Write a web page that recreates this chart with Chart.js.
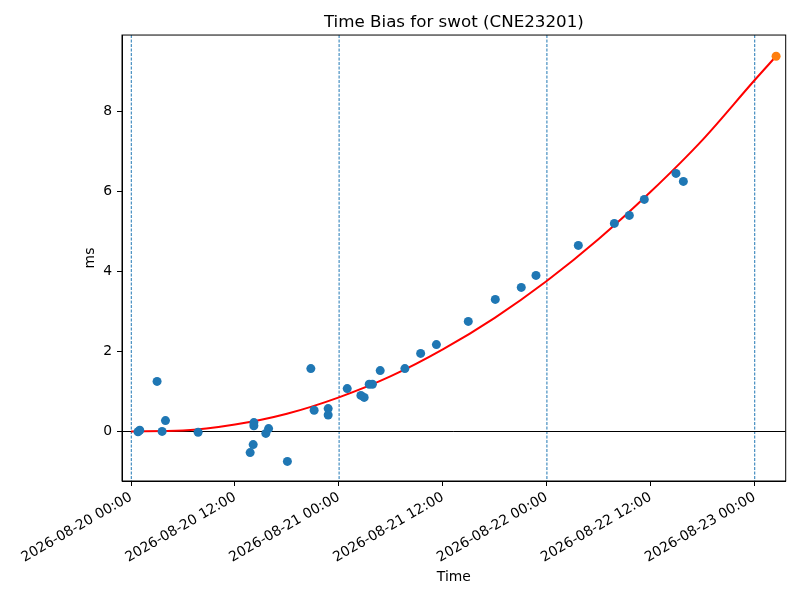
<!DOCTYPE html>
<html>
<head>
<meta charset="utf-8">
<title>Time Bias for swot (CNE23201)</title>
<script src="https://cdn.jsdelivr.net/npm/chart.js@4.4.1/dist/chart.umd.min.js"></script>
<style>
  html, body { margin: 0; padding: 0; background: #fff; }
  #wrap { width: 800px; height: 600px; }
</style>
</head>
<body>
<div id="wrap"><canvas id="biasChart" width="800" height="600"></canvas></div>
<script>
// hours since 2026-08-20 00:00
const obsHours = [0.8, 1.0, 3.0, 3.58, 3.97, 7.74, 13.75, 14.1, 14.18, 14.18, 15.56, 15.88,
    18.05, 20.76, 21.14, 22.76, 22.76, 24.96, 26.54, 26.92, 27.5, 27.87, 28.77, 31.62,
    33.44, 35.26, 38.94, 42.06, 45.06, 46.76, 51.65, 55.81, 57.54, 59.27, 62.93, 63.78];
const obsBias = [-0.01, 0.03, 1.25, 0.0, 0.27, -0.02, -0.53, -0.33, 0.22, 0.14, -0.05, 0.07,
    -0.75, 1.57, 0.53, 0.57, 0.41, 1.07, 0.9, 0.85, 1.18, 1.18, 1.52, 1.57,
    1.95, 2.17, 2.75, 3.3, 3.6, 3.9, 4.65, 5.2, 5.4, 5.8, 6.45, 6.25];

// predicted point (orange)
const predHours = [74.49];
const predBias = [9.38];

// fitted curve
const fitHours = [0, 6, 12, 18, 24, 30, 36, 42, 48, 54, 60, 66, 72, 74.49];
const fitBias = [0.0, 0.02, 0.17, 0.44, 0.85, 1.38, 2.05, 2.84, 3.76, 4.81, 5.99, 7.29, 8.78, 9.38];

const xTickHours = [0, 12, 24, 36, 48, 60, 72];
const xTickLabels = ['2026-08-20 00:00', '2026-08-20 12:00', '2026-08-21 00:00', '2026-08-21 12:00',
    '2026-08-22 00:00', '2026-08-22 12:00', '2026-08-23 00:00'];
const yTicks = [0, 2, 4, 6, 8];
const dayLines = [0, 24, 48, 72];
const zeroLine = 0;

const toXY = (xs, ys) => xs.map((x, i) => ({ x: x, y: ys[i] }));

// reference lines (axhline/axvline) and the top/right frame
const refLines = {
    id: 'refLines',
    beforeDatasetsDraw(chart) {
        const { ctx, chartArea: a, scales: { x, y } } = chart;
        ctx.save();
        ctx.beginPath();
        ctx.rect(a.left, a.top, a.right - a.left, a.bottom - a.top);
        ctx.clip();
        ctx.strokeStyle = '#1f77b4';
        ctx.lineWidth = 1;
        ctx.setLineDash([3, 1.5]);
        dayLines.forEach(h => {
            const px = x.getPixelForValue(h) + 0.2;
            ctx.beginPath();
            ctx.moveTo(px, a.top);
            ctx.lineTo(px, a.bottom);
            ctx.stroke();
        });
        ctx.setLineDash([]);
        ctx.strokeStyle = '#000';
        ctx.lineWidth = 1;
        const py = Math.round(y.getPixelForValue(zeroLine)) + 0.5;
        ctx.beginPath();
        ctx.moveTo(a.left, py);
        ctx.lineTo(a.right, py);
        ctx.stroke();
        ctx.restore();
    },
    afterDraw(chart) {
        const { ctx, chartArea: a } = chart;
        ctx.save();
        ctx.strokeStyle = '#000';
        ctx.lineWidth = 1;
        ctx.strokeRect(a.left, a.top, a.right - a.left, a.bottom - a.top);
        ctx.restore();
    }
};

const ctx = document.getElementById('biasChart').getContext('2d');
new Chart(ctx, {
    type: 'scatter',
    data: {
        datasets: [
            {
                label: 'observed',
                data: toXY(obsHours, obsBias),
                backgroundColor: '#1f77b4',
                borderWidth: 0,
                pointRadius: 4.5,
                order: 1
            },
            {
                label: 'predicted',
                data: toXY(predHours, predBias),
                backgroundColor: '#ff7f0e',
                borderWidth: 0,
                pointRadius: 4.5,
                order: 0
            },
            {
                type: 'line',
                label: 'fit',
                data: toXY(fitHours, fitBias),
                borderColor: '#ff0000',
                borderWidth: 2,
                pointRadius: 0,
                fill: false,
                cubicInterpolationMode: 'monotone',
                order: 2
            }
        ]
    },
    options: {
        responsive: false,
        animation: false,
        devicePixelRatio: 1,
        layout: { padding: { left: 0, right: 14.3, top: 0, bottom: 0 } },
        plugins: {
            legend: { display: false },
            tooltip: { enabled: false },
            title: {
                display: true,
                text: 'Time Bias for swot (CNE23201)',
                fullSize: false,
                color: '#000',
                font: { family: 'DejaVu Sans', size: 16.7, weight: 'normal' },
                padding: { top: 13, bottom: 2 }
            }
        },
        scales: {
            x: {
                type: 'linear',
                min: -1.05,
                max: 75.6,
                afterBuildTicks: s => { s.ticks = xTickHours.map(v => ({ value: v })); },
                afterFit: s => { s.height = 119; },
                ticks: {
                    color: '#000',
                    font: { family: 'DejaVu Sans', size: 13.9 },
                    minRotation: 30,
                    maxRotation: 30,
                    padding: 3,
                    callback: v => xTickLabels[xTickHours.indexOf(v)]
                },
                grid: { drawOnChartArea: false, drawTicks: true, tickLength: 5, tickColor: '#000' },
                border: { display: true, color: '#000', width: 1 },
                title: {
                    display: true,
                    text: 'Time',
                    color: '#000',
                    font: { family: 'DejaVu Sans', size: 13.9 },
                    padding: { top: 0, bottom: 14.6 }
                }
            },
            y: {
                type: 'linear',
                min: -1.24,
                max: 9.91,
                afterBuildTicks: s => { s.ticks = yTicks.map(v => ({ value: v })); },
                afterFit: s => { s.width = 122; },
                ticks: {
                    color: '#000',
                    font: { family: 'DejaVu Sans', size: 13.9 },
                    padding: 5
                },
                grid: { drawOnChartArea: false, drawTicks: true, tickLength: 5, tickColor: '#000' },
                border: { display: true, color: '#000', width: 1 },
                title: {
                    display: true,
                    text: 'ms',
                    color: '#000',
                    font: { family: 'DejaVu Sans', size: 13.9 },
                    padding: { top: 81.6, bottom: 0 }
                }
            }
        }
    },
    plugins: [refLines]
});
</script>
</body>
</html>
